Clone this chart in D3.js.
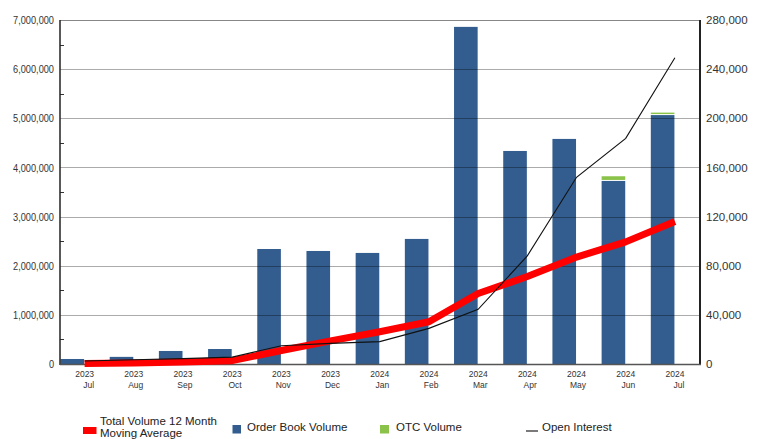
<!DOCTYPE html>
<html>
<head>
<meta charset="utf-8">
<script src="https://cdn.jsdelivr.net/npm/d3@7"></script>
<style>
html,body{margin:0;padding:0;background:#fff;}
svg{display:block;font-family:"Liberation Sans",Arial,sans-serif;}
</style>
</head>
<body>
<svg id="chart" width="760" height="439"></svg>
<script>
const years  = ["2023","2023","2023","2023","2023","2023","2024","2024","2024","2024","2024","2024","2024"];
const months = ["Jul","Aug","Sep","Oct","Nov","Dec","Jan","Feb","Mar","Apr","May","Jun","Jul"];
const categories = years.map((y,i)=>y+" "+months[i]);
const orderBookVolume = [102000,145000,265000,305000,2340000,2300000,2260000,2545000,6860000,4335000,4580000,3725000,5065000];
const otcVolume       = [0,0,0,0,0,0,0,0,0,0,0,75000,30000];
const openInterest    = [2400,3500,4400,5600,14900,16800,18200,29000,44500,88000,152000,183700,249300];
const movingAverage   = [8500,20000,42000,68000,275000,470000,655000,860000,1435000,1780000,2175000,2485000,2900000];
const leftTicks  = [0,1000000,2000000,3000000,4000000,5000000,6000000,7000000];
const leftMinor  = [500000,1500000,2500000,3500000,4500000,5500000,6500000];
const rightTicks = [0,40000,80000,120000,160000,200000,240000,280000];

const svg = d3.select("#chart");
const L=60, R=700, T=20, B=364;
const x = d3.scaleBand().domain(categories).range([L,R-0.5]).paddingInner(0).paddingOuter(0);
const bw = x.bandwidth();
const barW = bw*0.48;
const yL = d3.scaleLinear().domain([0,7000000]).range([B,T]);
const yR = d3.scaleLinear().domain([0,280000]).range([B,T]);

// bars
const gBars = svg.append("g");
gBars.selectAll("rect.ob").data(orderBookVolume).join("rect")
  .attr("x",(d,i)=>x(categories[i])+0.5).attr("width",barW)
  .attr("y",d=>yL(d)).attr("height",d=>B-yL(d)).attr("fill","#325d8e");
gBars.selectAll("rect.otc").data(otcVolume).join("rect")
  .attr("x",(d,i)=>x(categories[i])+0.5).attr("width",barW)
  .attr("y",(d,i)=>yL(orderBookVolume[i]+d)-1)
  .attr("height",d=>Math.max(0,yL(0)-yL(d)))
  .attr("fill","#8bc34a").attr("display",d=>d>0?null:"none");

// gridlines on top of bars
svg.append("g").selectAll("line").data(leftTicks.filter(d=>d>0)).join("line")
  .attr("x1",L).attr("x2",R).attr("y1",d=>Math.round(yL(d))+0.5).attr("y2",d=>Math.round(yL(d))+0.5)
  .attr("stroke","#000").attr("stroke-opacity",0.33).attr("stroke-width",1);

// left axis
const axL = svg.append("g").attr("transform",`translate(${L},0)`)
  .call(d3.axisLeft(yL).tickValues(leftTicks).tickFormat(d3.format(",")).tickSize(0).tickPadding(6));
axL.select(".domain").remove();
axL.selectAll("text").attr("font-size","11.5px").attr("fill","#333").attr("font-family","Liberation Sans, Arial, sans-serif")
  .each(function(){const w=this.getComputedTextLength(); d3.select(this).attr("textLength",w*0.8).attr("lengthAdjust","spacingAndGlyphs");});
svg.append("g").selectAll("line").data(leftMinor).join("line")
  .attr("x1",L).attr("x2",L+4).attr("y1",d=>Math.round(yL(d))+0.5).attr("y2",d=>Math.round(yL(d))+0.5)
  .attr("stroke","#333").attr("stroke-width",1);

// right axis
const axR = svg.append("g").attr("transform",`translate(${R},0)`)
  .call(d3.axisRight(yR).tickValues(rightTicks).tickFormat(d3.format(",")).tickSize(0).tickPadding(6));
axR.select(".domain").remove();
axR.selectAll("text").attr("font-size","11.5px").attr("fill","#333").attr("font-family","Liberation Sans, Arial, sans-serif");

// bottom axis labels
const gx = svg.append("g");
categories.forEach((c,i)=>{
  const cx = x(c)+bw/2;
  const t = gx.append("text").attr("text-anchor","end").attr("font-size","8.5px").attr("fill","#333")
    .attr("x",cx+9.5).attr("y",377);
  t.append("tspan").attr("x",cx+9.5).attr("dy",0).text(years[i]);
  t.append("tspan").attr("x",cx+9.5).attr("dy","10.5").text(months[i]);
});

// frame lines
svg.append("line").attr("x1",L).attr("x2",R).attr("y1",T+0.5).attr("y2",T+0.5).attr("stroke","#888").attr("stroke-width",1);
svg.append("line").attr("x1",L).attr("x2",L).attr("y1",T).attr("y2",B+1).attr("stroke","#222").attr("stroke-width",1.5);
svg.append("line").attr("x1",R).attr("x2",R).attr("y1",T).attr("y2",B+1).attr("stroke","#222").attr("stroke-width",2);
svg.append("line").attr("x1",L).attr("x2",R+1).attr("y1",B+0.5).attr("y2",B+0.5).attr("stroke","#555").attr("stroke-width",1.5);

// moving average line
const cxOf = i=>x(categories[i])+bw/2;
svg.append("path").datum(movingAverage)
  .attr("d",d3.line().x((d,i)=>cxOf(i)).y(d=>yL(d)))
  .attr("fill","none").attr("stroke","#ff0000").attr("stroke-width",7).attr("stroke-linejoin","round");

// open interest line
svg.append("path").datum(openInterest)
  .attr("d",d3.line().x((d,i)=>cxOf(i)).y(d=>yR(d)))
  .attr("fill","none").attr("stroke","#111").attr("stroke-width",1.1);

// legend
const lg = svg.append("g").attr("font-size","11.5px").attr("fill","#222");
lg.append("rect").attr("x",83).attr("y",427).attr("width",13.5).attr("height",7).attr("fill","#ff0000");
const t1 = lg.append("text").attr("x",100).attr("y",425);
t1.append("tspan").attr("x",100).text("Total Volume 12 Month");
t1.append("tspan").attr("x",100).attr("dy",12.3).text("Moving Average");
lg.append("rect").attr("x",232.5).attr("y",425).attr("width",8.5).attr("height",8.5).attr("fill","#325d8e");
lg.append("text").attr("x",247).attr("y",431).text("Order Book Volume");
lg.append("rect").attr("x",380).attr("y",425).attr("width",9).attr("height",8.5).attr("fill","#8bc34a");
lg.append("text").attr("x",396).attr("y",431).text("OTC Volume");
lg.append("line").attr("x1",526).attr("x2",538).attr("y1",431).attr("y2",431).attr("stroke","#222").attr("stroke-width",1.2);
lg.append("text").attr("x",542).attr("y",431).text("Open Interest");
lg.selectAll("text").each(function(){const w=this.getComputedTextLength();});
lg.selectAll("tspan,text").attr("fill","#222");
</script>
</body>
</html>
